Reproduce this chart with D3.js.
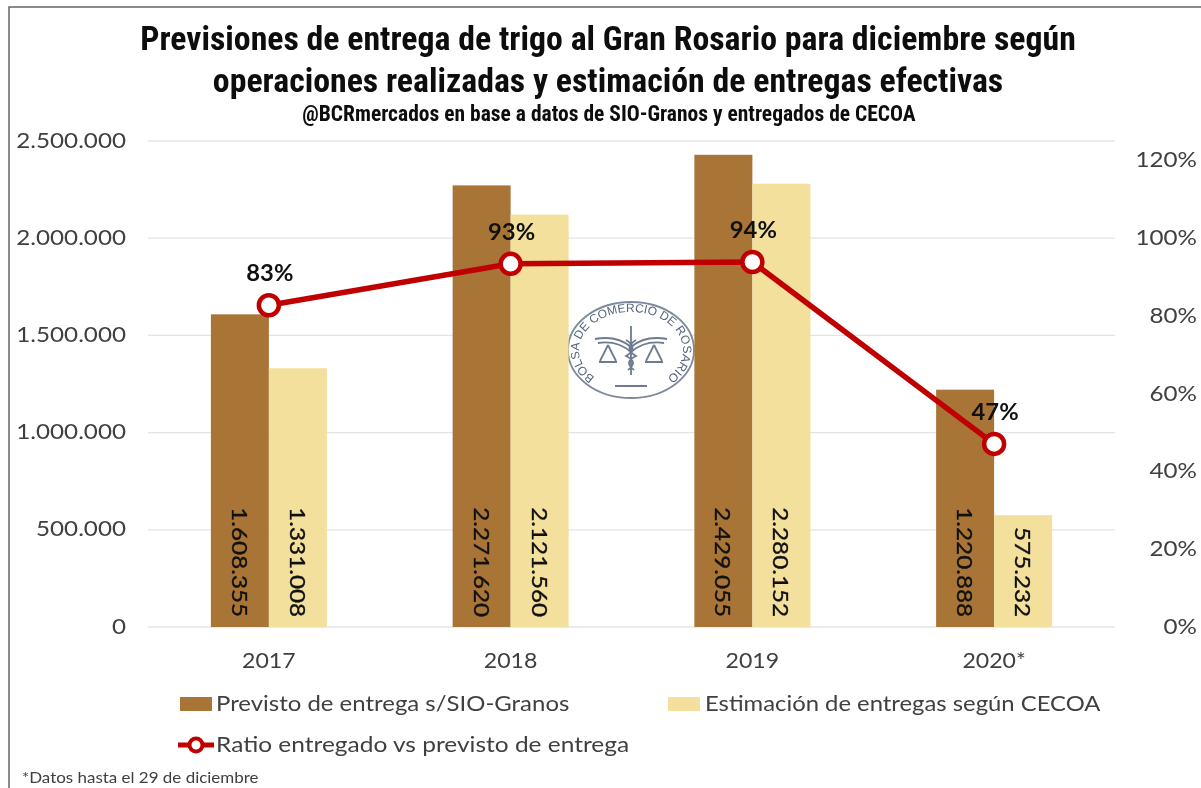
<!DOCTYPE html>
<html><head><meta charset="utf-8">
<script src="https://cdnjs.cloudflare.com/ajax/libs/d3/7.8.5/d3.min.js"></script>
<style>html,body{margin:0;background:#fff}svg{display:block;filter:blur(0.4px)}</style></head>
<body><svg id="c" width="1201" height="788"></svg>
<script>
const years=["2017","2018","2019","2020*"];
const previsto=[1608355,2271620,2429055,1220888];
const entregas=[1331008,2121560,2280152,575232];
const ratio=[0.8276,0.934,0.9387,0.471];
const ratioLabels=["83%","93%","94%","47%"];
const leftTicks=[0,500000,1000000,1500000,2000000,2500000];
const rightTicks=[0,0.2,0.4,0.6,0.8,1.0,1.2];
const titleLines=["Previsiones de entrega de trigo al Gran Rosario para diciembre según","operaciones realizadas y estimación de entregas efectivas"];
const subtitle="@BCRmercados en base a datos de SIO-Granos y entregados de CECOA";
const legendNames=["Previsto de entrega s/SIO-Granos","Estimación de entregas según CECOA","Ratio entregado vs previsto de entrega"];
const footnote="*Datos hasta el 29 de diciembre";
const cBrown="#a87537",cSand="#f2e09c",cRed="#c00000",cText="#404040";
const bodyFont="Lato,'Open Sans',sans-serif";
const titleFont="'Liberation Sans Narrow','Roboto Condensed','Liberation Sans',sans-serif";
const fmt=d=>d3.format(",d")(d).replace(/,/g,".");
// widen glyphs to the reference's horizontally stretched look
const stretch=(sel,f)=>sel.each(function(){const n=this.getComputedTextLength();d3.select(this).attr("textLength",n*f).attr("lengthAdjust","spacingAndGlyphs");});
const svg=d3.select("#c");
const L=148,R=1115,B=627,T=141;
const x=d3.scaleBand().domain(years).range([L,R]);
const xi=d3.scaleBand().domain([0,1]).range([0,116]);
const y=d3.scaleLinear().domain([0,2500000]).range([B,T]);
const y2=d3.scaleLinear().domain([0,1.25]).range([B,T]);
const off=(x.bandwidth()-116)/2;

svg.append("rect").attr("x",9).attr("y",7).attr("width",1300).attr("height",900).attr("fill","#fff").attr("stroke","#666").attr("stroke-width",1.5);

const t=svg.append("g").attr("text-anchor","middle").attr("fill","#0d0d0d").attr("font-family",titleFont).attr("font-weight",700);
t.selectAll("text.tl").data(titleLines).join("text").attr("class","tl").attr("x",608).attr("y",(d,i)=>50+i*42).attr("font-size",33.8).text(d=>d);
t.append("text").attr("x",609).attr("y",121).attr("font-size",21.5).text(subtitle);

svg.append("g").selectAll("line").data(leftTicks).join("line").attr("x1",L).attr("x2",R).attr("y1",d=>y(d)).attr("y2",d=>y(d)).attr("stroke","#e4e4e4").attr("stroke-width",1.3);

svg.append("g").attr("font-family",bodyFont).attr("font-size",22).attr("fill",cText).attr("text-anchor","end")
 .selectAll("text").data(leftTicks).join("text").attr("x",126).attr("y",d=>y(d)+6.5).text(fmt).call(stretch,1.1);
svg.append("g").attr("font-family",bodyFont).attr("font-size",22).attr("fill",cText).attr("text-anchor","end")
 .selectAll("text").data(rightTicks).join("text").attr("x",1197).attr("y",d=>y2(d)+7).text(d=>d3.format(".0%")(d)).call(stretch,1.1);
svg.append("g").attr("font-family",bodyFont).attr("font-size",21).attr("fill",cText).attr("text-anchor","middle")
 .selectAll("text").data(years).join("text").attr("x",d=>x(d)+x.bandwidth()/2).attr("y",668).text(d=>d).call(stretch,1.1);

// logo
const lg=svg.append("g").attr("transform","translate(631,350)").style("filter","blur(0.5px)");
lg.append("ellipse").attr("rx",63).attr("ry",48).attr("fill","#fff").attr("stroke","#7d8a9c").attr("stroke-width",1.8);
svg.append("defs").append("path").attr("id","arc").attr("d","M-30,31 A52,38 0 1 1 30,31");
lg.append("text").attr("font-family","'Liberation Sans',sans-serif").attr("font-size",12).attr("fill","#56657c").append("textPath").attr("href","#arc").attr("startOffset","50%").attr("text-anchor","middle").text("BOLSA DE COMERCIO DE ROSARIO");
lg.append("path").attr("d","M0,-24V25M-36,-11Q-14,-15 0,-3Q14,-15 36,-11M-33,-7Q-14,-10 0,2Q14,-10 33,-7M-32,12H-14M14,12H32M-23,-5L-31,11M-23,-5L-15,11M23,-5L15,11M23,-5L31,11M-5,-10Q8,-2 -5,6Q8,12 -3,20M5,-10Q-8,-2 5,6Q-8,12 3,20M-16,36H16").attr("fill","none").attr("stroke","#6d7b90").attr("stroke-width",1.8);

const bars=svg.append("g");
const cols=[previsto,entregas],colors=[cBrown,cSand];
cols.forEach((vals,k)=>{
 bars.selectAll("rect.s"+k).data(vals).join("rect").attr("class","s"+k)
  .attr("x",(d,i)=>x(years[i])+off+xi(k)).attr("width",xi.bandwidth())
  .attr("y",d=>y(d)).attr("height",d=>B-y(d)).attr("fill",colors[k]);
 svg.append("g").attr("font-family",bodyFont).attr("font-size",22).attr("fill","#111").attr("stroke","#111").attr("stroke-width",0.35).attr("text-anchor","end")
  .selectAll("text").data(vals).join("text")
  .attr("transform",(d,i)=>`translate(${x(years[i])+off+xi(k)+xi.bandwidth()/2-8},${B-10}) rotate(90)`)
  .text(fmt).call(stretch,1.1);
});

const cx=i=>x(years[i])+x.bandwidth()/2;
svg.append("path").attr("d",d3.line().x((d,i)=>cx(i)).y(d=>y2(d))(ratio)).attr("fill","none").attr("stroke",cRed).attr("stroke-width",5.5);
svg.append("g").selectAll("circle").data(ratio).join("circle").attr("cx",(d,i)=>cx(i)).attr("cy",d=>y2(d)).attr("r",10).attr("fill","#fff").attr("stroke",cRed).attr("stroke-width",4.5);
svg.append("g").attr("font-family",bodyFont).attr("font-size",22).attr("font-weight",700).attr("fill","#111").attr("text-anchor","middle")
 .selectAll("text").data(ratio).join("text").attr("x",(d,i)=>cx(i)+1).attr("y",d=>y2(d)-24).text((d,i)=>ratioLabels[i]).call(stretch,1.08);

// legend
const lf=svg.append("g").attr("font-family",bodyFont).attr("font-size",21).attr("fill",cText);
lf.append("rect").attr("x",180).attr("y",697).attr("width",32).attr("height",14).attr("fill",cBrown);
lf.append("text").attr("x",216).attr("y",711).text(legendNames[0]).call(stretch,1.14);
lf.append("rect").attr("x",668).attr("y",697).attr("width",32).attr("height",14).attr("fill",cSand);
lf.append("text").attr("x",705).attr("y",711).text(legendNames[1]).call(stretch,1.135);
lf.append("line").attr("x1",178).attr("x2",214).attr("y1",745).attr("y2",745).attr("stroke",cRed).attr("stroke-width",5);
lf.append("circle").attr("cx",196).attr("cy",745).attr("r",6.5).attr("fill","#fff").attr("stroke",cRed).attr("stroke-width",4);
lf.append("text").attr("x",216).attr("y",752).text(legendNames[2]).call(stretch,1.165);
svg.append("text").attr("x",22).attr("y",783).attr("font-family",bodyFont).attr("font-size",15).attr("fill",cText).text(footnote).call(stretch,1.13);
</script></body></html>
